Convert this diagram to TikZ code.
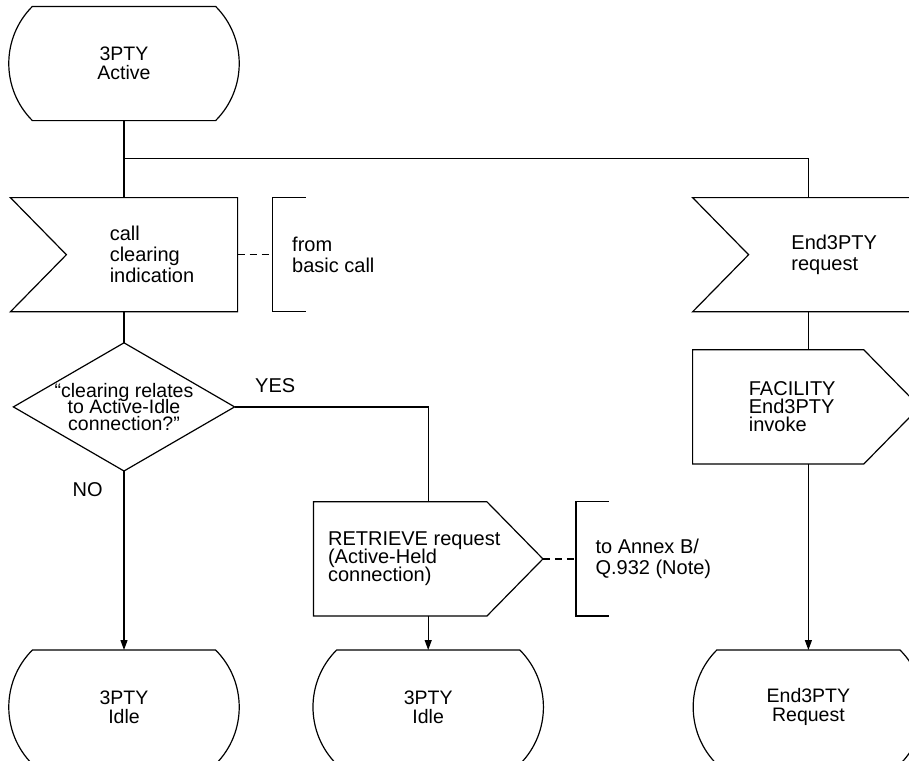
\documentclass[tikz,border=0pt]{standalone}
\usepackage{fontspec}
\setmainfont{Liberation Sans}
\usetikzlibrary{positioning,calc,arrows.meta}

\newcommand\sdltight{\lineskiplimit=-5pt\relax}

\tikzset{
  sdlstate/.style={minimum width=114pt, minimum height=56.5pt, inner sep=0pt, align=center,
    font=\fontsize{9.75}{9.75}\selectfont},
  insig/.style={minimum width=85pt, minimum height=56.5pt, inner sep=0pt, align=left},
  outsig/.style={minimum width=85pt, minimum height=56.5pt, inner sep=0pt, align=left,
    font=\fontsize{10}{9}\selectfont\sdltight},
  decide/.style={minimum width=110pt, minimum height=63.5pt, inner sep=0pt, align=center,
    font=\fontsize{9.75}{8.25}\selectfont\sdltight},
  note/.style={minimum height=56.5pt, inner xsep=9.5pt, align=left},
  lbl/.style={inner sep=0pt},
  flow/.style={-{Triangle[length=5pt,width=3.5pt]}},
  link/.style={dash pattern=on 3.5pt off 2.5pt},
}

\begin{document}
\begin{tikzpicture}[line width=0.6pt, font=\fontsize{10}{10.5}\selectfont]
    \useasboundingbox (0,0) rectangle (454.5pt,-380pt);
    \clip (0,0) rectangle (454.5pt,-380pt);

    \node[sdlstate] (act) at (62pt,-31.75pt) {3PTY\\Active};
    \node[insig] (clr) [below=38.5pt of act, xshift=14pt] {call\\clearing\\indication};
    \node[decide] (dec) [below=15.5pt of clr, xshift=-14pt] {“clearing relates\\to Active-Idle\\connection?”};
    \node[sdlstate] (idleA) [below=89.5pt of dec] {3PTY\\Idle};
    \node[sdlstate] (idleB) [right=37.5pt of idleA] {3PTY\\Idle};
    \node[outsig] (ret) [above=17pt of idleB, xshift=-7pt] {RETRIEVE request\\(Active-Held\\connection)};
    \node[insig] (endin) [right=255.5pt of clr] {End3PTY\\request};
    \node[outsig] (fac) [below=19pt of endin, xshift=-21pt] {FACILITY\\End3PTY\\invoke};
    \node[sdlstate] (endreq) [right=75.5pt of idleB] {End3PTY\\Request};
    \coordinate (rettip) at ([xshift=21pt]ret.east);
    \node[note] (fromnote) [right=17.5pt of clr] {from\\basic call};
    \node[note] (annex) [right=16.5pt of rettip] {to Annex B/\\Q.932 (Note)};
    \node[lbl, anchor=base west] (yes) at ([shift={(10pt,7pt)}]dec.east) {YES};
    \node[lbl, anchor=base west] (no) at ([shift={(-26pt,-12.5pt)}]dec.south) {NO};
    \coordinate (split) at ([yshift=-19pt]act.south);

    % outlines
    \foreach \s in {act,idleA,idleB,endreq}
        \draw ([xshift=11.5pt]\s.south west) to[bend left=45] ([xshift=11.5pt]\s.north west)
            -- ([xshift=-11.5pt]\s.north east) to[bend left=45] ([xshift=-11.5pt]\s.south east) -- cycle;
    \foreach \s in {clr,endin}
        \draw (\s.north east) -- ([xshift=-28pt]\s.north west) -- (\s.west)
            -- ([xshift=-28pt]\s.south west) -- (\s.south east) -- cycle;
    \foreach \s in {ret,fac}
        \draw ([xshift=-7pt]\s.south west) -- ([xshift=-7pt]\s.north west) -- ([xshift=-7pt]\s.north east)
            -- ([xshift=21pt]\s.east) -- ([xshift=-7pt]\s.south east) -- cycle;
    \draw (dec.north) -- (dec.east) -- (dec.south) -- (dec.west) -- cycle;
    \foreach \n in {fromnote,annex}
        \draw ([xshift=16.5pt]\n.north west) -- (\n.north west) -- (\n.south west) -- ++(16.5pt,0);

    % flow lines
    \draw (act.south) -- (act.south |- clr.north);
    \draw (split) -| (endreq.north |- endin.north);
    \draw (act.south |- clr.south) -- (dec.north);
    \draw[flow] (dec.south) -- (idleA.north);
    \draw (dec.east) -| (idleB.north |- ret.north);
    \draw[flow] (idleB.north |- ret.south) -- (idleB.north);
    \draw (endreq.north |- endin.south) -- (endreq.north |- fac.north);
    \draw[flow] (endreq.north |- fac.south) -- (endreq.north);
    \draw[link] (clr.east) -- (fromnote.west);
    \draw[link] (rettip) -- (annex.west);
\end{tikzpicture}
\end{document}
